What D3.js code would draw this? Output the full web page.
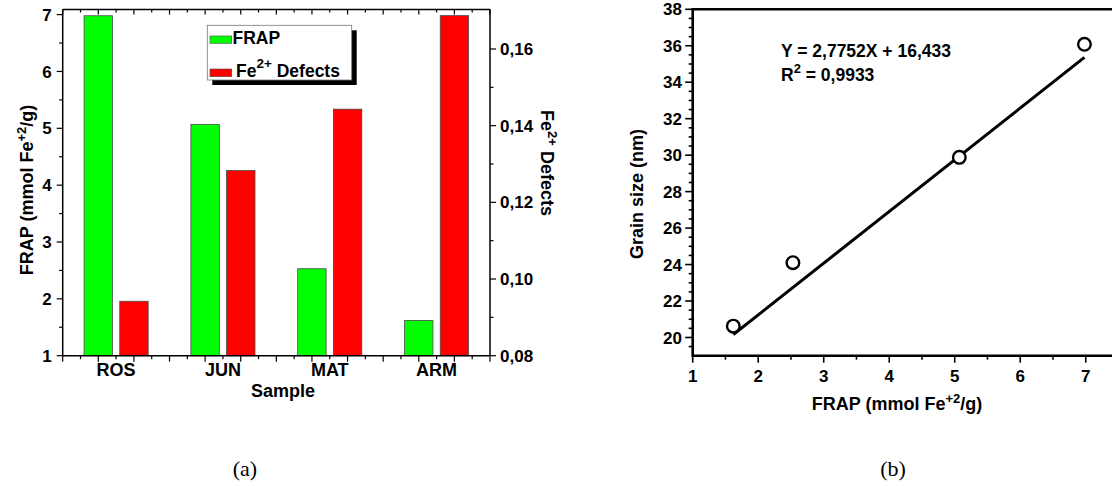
<!DOCTYPE html>
<html>
<head>
<meta charset="utf-8">
<script src="https://cdn.jsdelivr.net/npm/d3@7"></script>
<style>
  html, body { margin: 0; padding: 0; background: #fff; }
  svg { display: block; }
  text { font-family: "Liberation Sans", Arial, sans-serif; font-weight: bold; fill: #000; }
  .cap { font-family: "Liberation Serif", "Times New Roman", serif; font-weight: normal; }
</style>
</head>
<body>
<svg id="chart" width="1112" height="486"></svg>
<script>
/* ───────────── DATA ───────────── */
const categories   = ["ROS", "JUN", "MAT", "ARM"];
const frapValues   = [6.98, 5.07, 2.53, 1.62];          // mmol Fe+2/g (left axis)
const defectValues = [0.0942, 0.1283, 0.1443, 0.1687]; // Fe2+ defects (right axis)
const frapTicks    = [1, 2, 3, 4, 5, 6, 7];
const defectTicks  = [0.08, 0.10, 0.12, 0.14, 0.16];

const grainFrap    = [1.62, 2.53, 5.07, 6.98];
const grainSize    = [20.62, 24.10, 29.88, 36.08];      // nm
const fitFrap      = [1.62, 6.98];                      // drawn fit line ends
const fitGrain     = [20.16, 35.36];
const grainTicks   = [20, 22, 24, 26, 28, 30, 32, 34, 36, 38];
const frapTicksB   = [1, 2, 3, 4, 5, 6, 7];

const svg = d3.select("#chart");
const comma = d3.formatLocale({decimal: ",", thousands: ".", grouping: [3], currency: ["", ""]});
const fmt2 = comma.format(".2f");

/* ───────────── PANEL (a): grouped bars, two y axes ───────────── */
const A = {left: 62.7, right: 490, top: 9.5, bottom: 355.7};
const ga = svg.append("g");

const xBand = d3.scaleBand().domain(categories).range([A.left, A.right]);
const bw = xBand.bandwidth();
const xInner = d3.scaleBand().domain(["frap", "defect"])
                 .range([0.2 * bw, 0.8 * bw]).paddingInner(0.2045);
const yL = d3.scaleLinear().domain([1, 7.09]).range([A.bottom, A.top]);
const yR = d3.scaleLinear().domain([0.08, 0.1703]).range([A.bottom, A.top]);

// bars
ga.selectAll("rect.frap").data(categories).join("rect")
  .attr("x", (d) => xBand(d) + xInner("frap"))
  .attr("width", xInner.bandwidth())
  .attr("y", (d, i) => yL(frapValues[i]))
  .attr("height", (d, i) => yL(1) - yL(frapValues[i]))
  .attr("fill", "#00ff00").attr("stroke", "#4a4a4a").attr("stroke-width", 0.8);
ga.selectAll("rect.def").data(categories).join("rect")
  .attr("x", (d) => xBand(d) + xInner("defect"))
  .attr("width", xInner.bandwidth())
  .attr("y", (d, i) => yR(defectValues[i]))
  .attr("height", (d, i) => yR(0.08) - yR(defectValues[i]))
  .attr("fill", "#ff0000").attr("stroke", "#4a4a4a").attr("stroke-width", 0.8);

// frame lines
const lineA = (x1, y1, x2, y2, w) => ga.append("line")
  .attr("x1", x1).attr("y1", y1).attr("x2", x2).attr("y2", y2)
  .attr("stroke", "#000").attr("stroke-width", w || 1.5);
lineA(A.left, A.top, A.right, A.top);
lineA(A.left, A.bottom, A.right, A.bottom);
lineA(A.left, A.top, A.left, A.bottom);
lineA(A.right, A.top, A.right, A.bottom);

// category-axis ticks (Origin style: major every third of a band, minor between)
const xPos = d3.scaleLinear().domain([0, categories.length * 6]).range([A.left, A.right]);
d3.range(0, categories.length * 6 + 1).forEach(i => {
  const x = xPos(i), long = i % 2 === 0;
  lineA(x, A.bottom, x, A.bottom + (long ? 6 : 3.5), 1.2);
  lineA(x, A.top, x, A.top + (long ? 5 : 3), 1.2);
});

// left axis
d3.range(1, 7.01, 0.5).forEach(v => {
  const major = Number.isInteger(v);
  lineA(A.left - (major ? 6 : 3.5), yL(v), A.left, yL(v), 1.2);
});
ga.selectAll("text.yl").data(frapTicks).join("text")
  .attr("x", A.left - 11).attr("y", d => yL(d)).attr("dy", "0.36em")
  .attr("text-anchor", "end").style("font-size", "17px").text(d => d);

// right axis
d3.range(0.08, 0.1601, 0.01).forEach((v, i) => {
  const major = i % 2 === 0;
  lineA(A.right, yR(v), A.right + (major ? 6 : 3.5), yR(v), 1.2);
});
ga.selectAll("text.yr").data(defectTicks).join("text")
  .attr("x", A.right + 10).attr("y", d => yR(d)).attr("dy", "0.36em")
  .attr("text-anchor", "start").style("font-size", "17px").text(d => fmt2(d));

// category labels
ga.selectAll("text.cat").data(categories).join("text")
  .attr("x", d => xBand(d) + bw / 2).attr("y", 375.5)
  .attr("text-anchor", "middle").style("font-size", "18px").text(d => d);

ga.append("text").attr("x", 283).attr("y", 397).attr("text-anchor", "middle")
  .style("font-size", "18px").text("Sample");

// left y title
const tl = ga.append("text").attr("transform", "translate(32.5,190) rotate(-90)")
  .attr("text-anchor", "middle").style("font-size", "18px");
tl.append("tspan").text("FRAP (mmol Fe");
tl.append("tspan").attr("dy", -7).style("font-size", "13px").text("+2");
tl.append("tspan").attr("dy", 7).text("/g)");

// right y title
const tr = ga.append("text").attr("transform", "translate(541,163) rotate(90)")
  .attr("text-anchor", "middle").style("font-size", "18px");
tr.append("tspan").text("Fe");
tr.append("tspan").attr("dy", -7).style("font-size", "13px").text("2+");
tr.append("tspan").attr("dy", 7).text(" Defects");

// legend
const L = {x: 207.3, y: 25.3, w: 144.4, h: 54.7};
ga.append("rect").attr("x", L.x + 5).attr("y", L.y + 5).attr("width", L.w).attr("height", L.h)
  .attr("fill", "#000");
ga.append("rect").attr("x", L.x).attr("y", L.y).attr("width", L.w).attr("height", L.h)
  .attr("fill", "#fff").attr("stroke", "#777").attr("stroke-width", 0.8);
ga.append("rect").attr("x", 210).attr("y", 36).attr("width", 21.7).attr("height", 7.3)
  .attr("fill", "#00ff00").attr("stroke", "#4a4a4a").attr("stroke-width", 0.6);
ga.append("rect").attr("x", 210).attr("y", 69).attr("width", 21.7).attr("height", 7.7)
  .attr("fill", "#ff0000").attr("stroke", "#4a4a4a").attr("stroke-width", 0.6);
ga.append("text").attr("x", 232.5).attr("y", 43.5).style("font-size", "17.5px").text("FRAP");
const lg = ga.append("text").attr("x", 236).attr("y", 76.8).style("font-size", "17.5px");
lg.append("tspan").text("Fe");
lg.append("tspan").attr("dy", -9).style("font-size", "13.5px").text("2+");
lg.append("tspan").attr("dy", 9).text(" Defects");

/* ───────────── PANEL (b): scatter + fit ───────────── */
const B = {left: 692.7, right: 1118.5, top: 9.3, bottom: 355.7};
const gb = svg.append("g");
const xB = d3.scaleLinear().domain([1, 7.5]).range([B.left, B.right]);
const yB = d3.scaleLinear().domain([19, 38]).range([B.bottom, B.top]);

const lineB = (x1, y1, x2, y2, w) => gb.append("line")
  .attr("x1", x1).attr("y1", y1).attr("x2", x2).attr("y2", y2)
  .attr("stroke", "#000").attr("stroke-width", w || 2.6);
lineB(B.left, B.top, B.right, B.top);
lineB(B.left, B.bottom, B.right, B.bottom);
lineB(B.left, B.top - 1.3, B.left, B.bottom + 1.3);

// y ticks: major every 2, minor every 0.5
d3.range(19.5, 38.01, 0.5).forEach(v => {
  const major = v % 2 === 0;
  lineB(B.left - (major ? 7.5 : 4), yB(v), B.left, yB(v), 1.6);
});
gb.selectAll("text.yb").data(grainTicks).join("text")
  .attr("x", 682).attr("y", d => yB(d)).attr("dy", "0.36em")
  .attr("text-anchor", "end").style("font-size", "17px").text(d => d);

// x ticks: major each integer, minor at halves
d3.range(1, 7.51, 0.5).forEach(v => {
  const major = Number.isInteger(v);
  lineB(xB(v), B.bottom, xB(v), B.bottom + (major ? 7 : 4), 1.6);
});
gb.selectAll("text.xb").data(frapTicksB).join("text")
  .attr("x", d => xB(d)).attr("y", 381.5)
  .attr("text-anchor", "middle").style("font-size", "17px").text(d => d);

// fit line
gb.append("path")
  .datum(d3.zip(fitFrap, fitGrain))
  .attr("d", d3.line().x(d => xB(d[0])).y(d => yB(d[1])))
  .attr("fill", "none").attr("stroke", "#000").attr("stroke-width", 3);

// points
gb.selectAll("circle").data(d3.zip(grainFrap, grainSize)).join("circle")
  .attr("cx", d => xB(d[0])).attr("cy", d => yB(d[1])).attr("r", 6.3)
  .attr("fill", "#fff").attr("stroke", "#000").attr("stroke-width", 2.4);

// equation text
gb.append("text").attr("x", 781).attr("y", 56.5).style("font-size", "17.5px")
  .text("Y = 2,7752X + 16,433");
const r2 = gb.append("text").attr("x", 781).attr("y", 80.5).style("font-size", "17.5px");
r2.append("tspan").text("R");
r2.append("tspan").attr("dy", -8).style("font-size", "13px").text("2");
r2.append("tspan").attr("dy", 8).text(" = 0,9933");

// axis titles
const xt = gb.append("text").attr("x", 897).attr("y", 410).attr("text-anchor", "middle")
  .style("font-size", "18px");
xt.append("tspan").text("FRAP (mmol Fe");
xt.append("tspan").attr("dy", -7).style("font-size", "13px").text("+2");
xt.append("tspan").attr("dy", 7).text("/g)");

gb.append("text").attr("transform", "translate(642.7,194) rotate(-90)")
  .attr("text-anchor", "middle").style("font-size", "18px").text("Grain size (nm)");

/* ───────────── captions ───────────── */
svg.append("text").attr("class", "cap").attr("x", 245).attr("y", 476)
  .attr("text-anchor", "middle").style("font-size", "22px").text("(a)");
svg.append("text").attr("class", "cap").attr("x", 893).attr("y", 476)
  .attr("text-anchor", "middle").style("font-size", "22px").text("(b)");
</script>
</body>
</html>
